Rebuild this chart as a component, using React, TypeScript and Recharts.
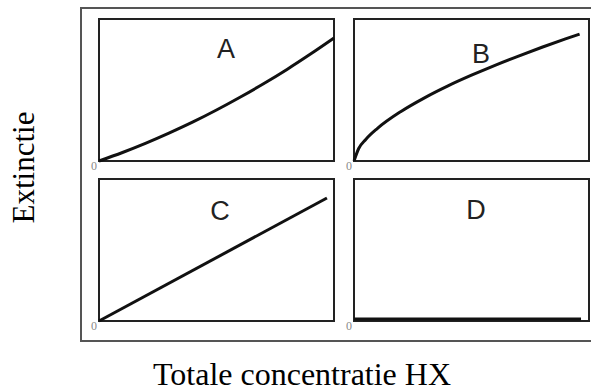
import React from "react";
import { LineChart, Line, XAxis, YAxis, ReferenceArea } from "recharts";

// concentration (x) and extinction (y) on a 0..100 scale per panel
const CONC_A = [0, 10, 20, 30, 40, 50, 60, 70, 80, 90, 100];
const EXT_A = [0, 6, 12.6, 19.8, 27.5, 35.9, 44.9, 54.4, 64.5, 75.3, 86.6];

const CONC_B = [0, 2, 5, 10, 20, 30, 40, 50, 60, 70, 80, 90, 96];
const EXT_B = [0, 8.8, 15.2, 23, 34.9, 44.5, 52.9, 60.4, 67.4, 73.9, 80.1, 86, 89.4];

const CONC_C = [0, 97];
const EXT_C = [0, 86.6];

const CONC_D = [0, 96.6];
const EXT_D = [1.4, 1.4];

const PANEL_NAMES = ["A", "B", "C", "D"];
const Y_TICKS = [0];

const PLOT_W = 235;
const PLOT_H = 142;
const AXIS_W = 12;
const MARGIN = { top: 2, right: 2, bottom: 14, left: 2 };
const PLOT_LEFT = MARGIN.left + AXIS_W;

const serif = "'Liberation Serif', 'Times New Roman', serif";
const sans = "'Liberation Sans', Arial, sans-serif";

const toRows = (xs: number[], ys: number[]) => xs.map((x, i) => ({ x, y: ys[i] }));

const panels = [
  { name: PANEL_NAMES[0], rows: toRows(CONC_A, EXT_A), curve: "monotone", left: 99, top: 19, lx: 226, ly: 36 },
  { name: PANEL_NAMES[1], rows: toRows(CONC_B, EXT_B), curve: "monotone", left: 354, top: 19, lx: 481, ly: 41 },
  { name: PANEL_NAMES[2], rows: toRows(CONC_C, EXT_C), curve: "linear", left: 99, top: 179, lx: 220, ly: 198 },
  { name: PANEL_NAMES[3], rows: toRows(CONC_D, EXT_D), curve: "linear", left: 354, top: 179, lx: 476, ly: 197 },
];

function ZeroTick(props: any) {
  const { y, payload } = props;
  return (
    <text
      x={PLOT_LEFT - 5}
      y={y + 5}
      textAnchor="middle"
      dominantBaseline="central"
      fill="#8a8a8a"
      fontSize={12}
      fontFamily={serif}
    >
      {payload.value}
    </text>
  );
}

function Panel({ p }: { p: (typeof panels)[number] }) {
  return (
    <div style={{ position: "absolute", left: p.left - PLOT_LEFT, top: p.top - MARGIN.top }}>
      <LineChart
        width={PLOT_LEFT + PLOT_W + MARGIN.right}
        height={MARGIN.top + PLOT_H + MARGIN.bottom}
        data={p.rows}
        margin={MARGIN}
      >
        <XAxis dataKey="x" type="number" domain={[0, 100]} hide />
        <YAxis
          type="number"
          domain={[0, 100]}
          ticks={Y_TICKS}
          width={AXIS_W}
          axisLine={false}
          tickLine={false}
          tick={<ZeroTick />}
        />
        <ReferenceArea x1={0} x2={100} y1={0} y2={100} fill="none" stroke="#222" strokeWidth={2} />
        <Line
          dataKey="y"
          type={p.curve as any}
          stroke="#111"
          strokeWidth={3}
          dot={false}
          activeDot={false}
          isAnimationActive={false}
        />
      </LineChart>
    </div>
  );
}

export default function App() {
  return (
    <div style={{ position: "absolute", left: 0, top: 0, width: 591, height: 392, background: "#fff", overflow: "hidden" }}>
      <div
        style={{
          position: "absolute",
          left: 80,
          top: 7,
          width: 511,
          height: 335,
          boxSizing: "border-box",
          borderTop: "2px solid #555",
          borderLeft: "2px solid #555",
          borderBottom: "2px solid #555",
        }}
      />
      {panels.map((p) => (
        <Panel key={p.name} p={p} />
      ))}
      {panels.map((p) => (
        <div
          key={"l" + p.name}
          style={{
            position: "absolute",
            left: p.lx - 20,
            top: p.ly,
            width: 40,
            textAlign: "center",
            fontFamily: sans,
            fontSize: 27,
            lineHeight: 1,
            color: "#222",
          }}
        >
          {p.name}
        </div>
      ))}
      <div
        style={{
          position: "absolute",
          left: 23 - 100,
          top: 167 - 15.5,
          width: 200,
          height: 31,
          lineHeight: "31px",
          textAlign: "center",
          fontFamily: serif,
          fontSize: 31,
          color: "#000",
          transform: "rotate(-90deg)",
          whiteSpace: "nowrap",
        }}
      >
        Extinctie
      </div>
      <div
        style={{
          position: "absolute",
          left: 302 - 200,
          top: 358,
          width: 400,
          textAlign: "center",
          fontFamily: serif,
          fontSize: 32,
          lineHeight: "32px",
          color: "#000",
          whiteSpace: "nowrap",
        }}
      >
        Totale concentratie HX
      </div>
    </div>
  );
}
